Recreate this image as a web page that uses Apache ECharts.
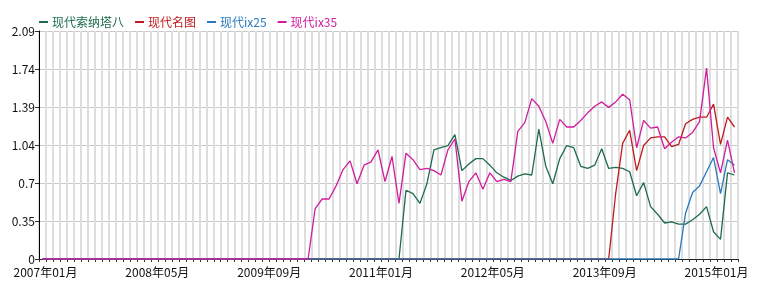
<!DOCTYPE html>
<html>
<head>
<meta charset="utf-8">
<script src="https://cdn.jsdelivr.net/npm/echarts@6/dist/echarts.min.js"></script>
<style>html,body{margin:0;padding:0;background:#fff;}#c{width:758px;height:288px;}</style>
</head>
<body>
<div id="c"></div>
<script>
// month categories 2007-01 .. 2015-04 (100 months)
var startYear = 2007, startMonth = 1, monthCount = 100;
var categories = [];
for (var i = 0; i < monthCount; i++) {
  var m = startMonth - 1 + i;
  var y = startYear + Math.floor(m / 12);
  var mm = (m % 12) + 1;
  categories.push(y + '年' + (mm < 10 ? '0' + mm : '' + mm) + '月');
}
var seriesNames = ['现代索纳塔八', '现代名图', '现代ix25', '现代ix35'];
var yTickLabels = ['0', '0.35', '0.7', '1.04', '1.39', '1.74', '2.09'];
var yMax = 2.09;

var sonata8 = [0,0,0,0,0,0,0,0,0,0, 0,0,0,0,0,0,0,0,0,0, 0,0,0,0,0,0,0,0,0,0, 0,0,0,0,0,0,0,0,0,0,
  0,0,0,0,0,0,0,0,0,0, 0,0,
  0.63,0.60,0.51,0.69,1.00,1.02,1.04,1.14,0.81,0.87,
  0.92,0.92,0.86,0.79,0.75,0.72,0.76,0.78,0.77,1.19,
  0.85,0.69,0.92,1.04,1.02,0.85,0.83,0.86,1.01,0.83,
  0.84,0.83,0.80,0.58,0.70,0.48,0.41,0.33,0.34,0.32,
  0.32,0.36,0.41,0.48,0.25,0.18,0.79,0.77];
var mistra = [0,0,0,0,0,0,0,0,0,0, 0,0,0,0,0,0,0,0,0,0, 0,0,0,0,0,0,0,0,0,0, 0,0,0,0,0,0,0,0,0,0,
  0,0,0,0,0,0,0,0,0,0, 0,0,0,0,0,0,0,0,0,0, 0,0,0,0,0,0,0,0,0,0, 0,0,0,0,0,0,0,0,0,0,
  0,0,
  0.60,1.06,1.18,0.81,1.04,1.11,1.12,1.12,1.03,1.05,
  1.24,1.28,1.30,1.30,1.42,1.05,1.30,1.21];
var ix25 = [0,0,0,0,0,0,0,0,0,0, 0,0,0,0,0,0,0,0,0,0, 0,0,0,0,0,0,0,0,0,0, 0,0,0,0,0,0,0,0,0,0,
  0,0,0,0,0,0,0,0,0,0, 0,0,0,0,0,0,0,0,0,0, 0,0,0,0,0,0,0,0,0,0, 0,0,0,0,0,0,0,0,0,0,
  0,0,0,0,0,0,0,0,0,0, 0,0,
  0.42,0.61,0.67,0.80,0.93,0.60,0.91,0.86];
var ix35 = [0,0,0,0,0,0,0,0,0,0, 0,0,0,0,0,0,0,0,0,0, 0,0,0,0,0,0,0,0,0,0, 0,0,0,0,0,0,0,0,0,
  0.46,0.55,0.55,0.67,0.82,0.90,0.69,0.86,0.89,1.00,
  0.71,0.94,0.51,0.97,0.91,0.82,0.83,0.81,0.77,1.00,
  1.10,0.53,0.71,0.79,0.64,0.79,0.71,0.73,0.71,1.17,
  1.25,1.47,1.40,1.26,1.06,1.28,1.21,1.21,1.27,1.34,
  1.40,1.44,1.39,1.44,1.51,1.46,1.02,1.27,1.20,1.21,
  1.01,1.07,1.12,1.11,1.16,1.26,1.75,1.02,0.79,1.09,
  0.79];

var colors = ['#1d6b4c', '#c01a1e', '#2a79bf', '#cf1d9e'];
var fontFam = '"Noto Sans CJK SC", "DejaVu Sans", sans-serif';
var chart = echarts.init(document.getElementById('c'), null, {renderer: 'canvas'});
function mk(name, data, color) {
  return {
    name: name, type: 'line', data: data, showSymbol: false, symbol: 'none',
    lineStyle: {color: color, width: 1.3}, itemStyle: {color: color},
    animation: false
  };
}
chart.setOption({
  animation: false,
  color: colors,
  grid: {left: 39, right: 20, top: 31, bottom: 29, containLabel: false},
  legend: {
    left: 34, top: 11, itemWidth: 9, itemHeight: 2, itemGap: 11,
    icon: 'rect',
    textStyle: {fontSize: 12, fontFamily: fontFam, padding: [0, 0, 0, -1]},
    data: seriesNames.map(function (n, i) { return {name: n, textStyle: {color: colors[i]}}; })
  },
  xAxis: {
    type: 'category', data: categories, boundaryGap: true,
    axisLine: {lineStyle: {color: '#222', width: 1}},
    axisTick: {show: true, interval: 0, length: 3, lineStyle: {color: '#333'}},
    axisLabel: {
      interval: 15, margin: 7, color: '#111', fontSize: 12, fontFamily: fontFam,
      padding: [0, 0, 0, 6]
    },
    splitLine: {show: true, interval: 0, lineStyle: {color: '#dedede', width: 2}}
  },
  yAxis: {
    type: 'value', min: 0, max: yMax, interval: yMax / 6,
    axisLine: {show: true, lineStyle: {color: '#000', width: 1}},
    axisTick: {show: true, length: 4, lineStyle: {color: '#333'}},
    axisLabel: {
      color: '#111', fontSize: 12, fontFamily: fontFam, margin: 4,
      formatter: function (v) { return yTickLabels[Math.round(v / (yMax / 6))]; }
    },
    splitLine: {show: true, lineStyle: {color: '#c8c8c8', width: 1}}
  },
  series: [
    mk(seriesNames[0], sonata8, colors[0]),
    mk(seriesNames[1], mistra, colors[1]),
    mk(seriesNames[2], ix25, colors[2]),
    mk(seriesNames[3], ix35, colors[3])
  ]
});
</script>
</body>
</html>
